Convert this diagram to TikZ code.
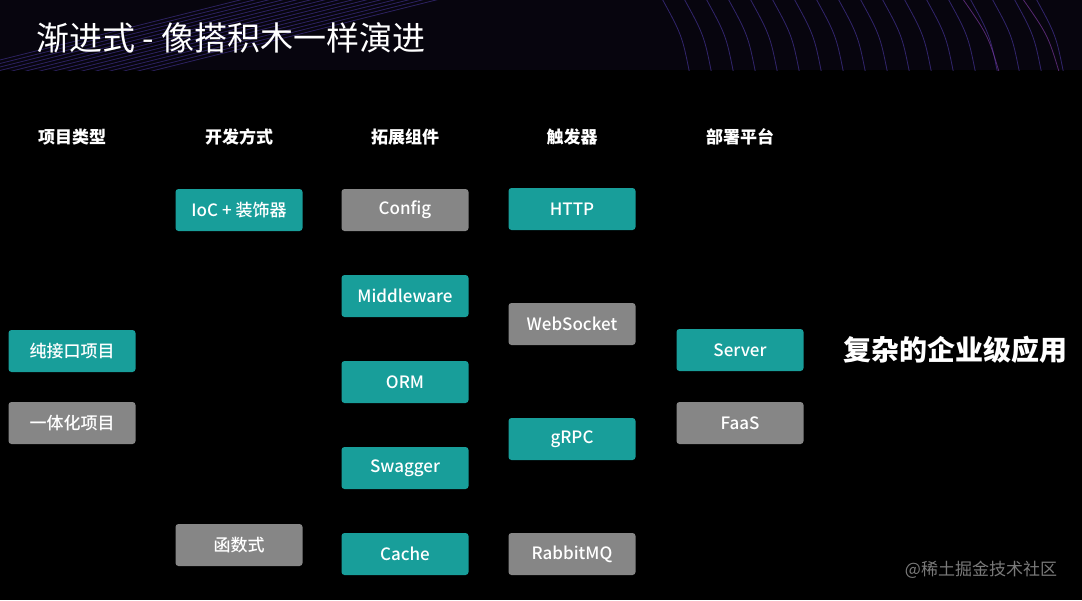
\documentclass[tikz,border=0pt]{standalone}
\usepackage{fontspec}
\setmainfont{Noto Sans CJK SC}
\newfontfamily\medfont{Noto Sans CJK SC Medium}
\definecolor{JTeal}{HTML}{189E9A}
\definecolor{JGray}{HTML}{868686}
\definecolor{JBar}{HTML}{07050E}
\definecolor{JStreak}{HTML}{5B44C8}
\definecolor{JPink}{HTML}{8A3FB0}
\definecolor{JMark}{HTML}{7A7A7A}

\begin{document}
\begin{tikzpicture}[x=1pt,y=-1pt,
  blk/.style={rounded corners=3pt,minimum width=127pt,minimum height=42pt,inner sep=0pt,text=white,font=\medfont\fontsize{17}{20}\selectfont},
  on/.style={blk,fill=JTeal},
  off/.style={blk,fill=JGray},
  hd/.style={text=white,font=\fontsize{17}{20}\selectfont\bfseries}]
% background and title bar
\fill[black] (0,0) rectangle (1082,600);
\fill[JBar] (0,0) rectangle (1082,70);
\begin{scope}
\clip (0,0) rectangle (1082,70);
\foreach \s in {0,14,...,200}
  \draw[JStreak,opacity=.45,line width=.8pt] (\s-60,75) .. controls (\s+80,40) .. (\s+260,-5);
\foreach \s in {690,712,...,1080}
  \draw[JStreak,opacity=.5,line width=.8pt] (\s,75) .. controls (\s-8,35) .. (\s-30,-5);
\foreach \s in {1000,1060,1120}
  \draw[JPink,opacity=.6,line width=.8pt] (\s,75) .. controls (\s-12,35) .. (\s-40,-5);
\end{scope}
\node[anchor=west,text=white,font=\fontsize{33}{36}\selectfont] (title) at (33,38) {渐进式 - 像搭积木一样演进};

% column headers
\node[hd] (h1) at (72,137) {项目类型};
\node[hd] (h2) at (239,137) {开发方式};
\node[hd] (h3) at (405,137) {拓展组件};
\node[hd] (h4) at (572,137) {触发器};
\node[hd] (h5) at (740,137) {部署平台};

% project type
\node[on] (api) at (72,351) {纯接口项目};
\node[off] (full) at (72,423) {一体化项目};
% dev style
\node[on] (ioc) at (239,210) {IoC + 装饰器};
\node[off] (func) at (239,545) {函数式};
% components
\node[off] (cfg) at (405,210) {Config};
\node[on] (mw) at (405,296) {Middleware};
\node[on] (orm) at (405,382) {ORM};
\node[on] (swg) at (405,468) {Swagger};
\node[on] (cache) at (405,554) {Cache};
% triggers
\node[on] (http) at (572,209) {HTTP};
\node[off] (ws) at (572,324) {WebSocket};
\node[on] (grpc) at (572,439) {gRPC};
\node[off] (mq) at (572,554) {RabbitMQ};
% platforms
\node[on] (srv) at (740,350) {Server};
\node[off] (faas) at (740,423) {FaaS};

\node[text=white,font=\fontsize{28}{31}\selectfont\bfseries] (app) at (955,350) {复杂的企业级应用};
\node[text=JMark,font=\fontsize{17}{20}\selectfont] (mark) at (981,570) {@稀土掘金技术社区};
\end{tikzpicture}
\end{document}
